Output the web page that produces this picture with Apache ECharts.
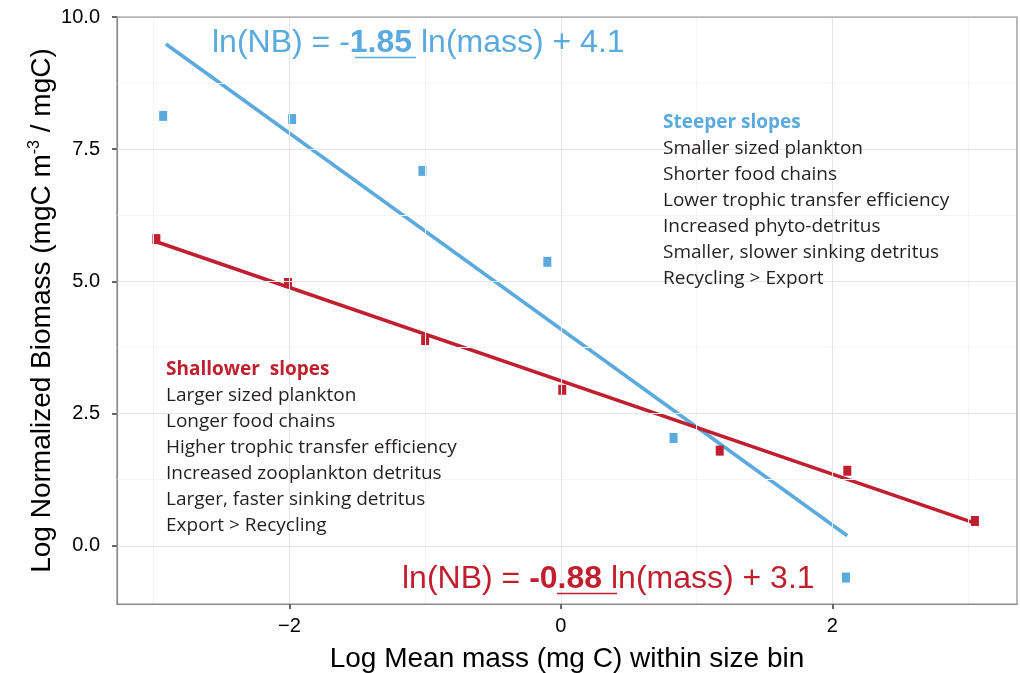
<!DOCTYPE html>
<html>
<head>
<meta charset="utf-8">
<script src="https://cdn.jsdelivr.net/npm/echarts@6/dist/echarts.min.js"></script>
<style>html,body{margin:0;padding:0;background:#fff;}#c{width:1020px;height:673px;}</style>
</head>
<body>
<div id="c"></div>
<script>
// ---- data ----
const massRed = [-2.98, -2.01, -1.00, 0.01, 1.17, 2.11, 3.05];
const nbRed   = [5.80, 4.97, 3.89, 2.95, 1.80, 1.42, 0.47];
const massBlue = [-2.93, -1.98, -1.02, -0.10, 0.83, 2.10];
const nbBlue   = [8.13, 8.07, 7.09, 5.37, 2.04, -0.60];
const blueFitX = [-2.91, 2.11];
const blueFitY = [9.49, 0.19];
const redFitX = [-2.98, 3.05];
const redFitY = [5.75, 0.43];
const xTicks = [-2, 0, 2];
const yTicks = [0, 2.5, 5, 7.5, 10];
const xMinor = [-3, -1, 1, 3];
const yMinor = [1.25, 3.75, 6.25, 8.75];
const steeperLines = ['Smaller sized plankton', 'Shorter food chains', 'Lower trophic transfer efficiency',
  'Increased phyto-detritus', 'Smaller, slower sinking detritus', 'Recycling > Export'];
const shallowerLines = ['Larger sized plankton', 'Longer food chains', 'Higher trophic transfer efficiency',
  'Increased zooplankton detritus', 'Larger, faster sinking detritus', 'Export > Recycling'];

const BLUE = '#5aaade';
const RED = '#bf1f2e';
const SANS = 'Liberation Sans';
const NOTE = 'Open Sans';

const pairs = (xs, ys) => xs.map((x, i) => [x, ys[i]]);

const chart = echarts.init(document.getElementById('c'), null, {renderer: 'canvas'});
const option = {
  animation: false,
  backgroundColor: '#fff',
  grid: {left: 117, right: 3, top: 17, bottom: 69, show: true, borderColor: '#8a8a8a', borderWidth: 1.2,
    backgroundColor: 'transparent', z: 10, outerBoundsMode: 'none', containLabel: false},
  xAxis: {
    type: 'value', min: -3.27, max: 3.36,
    name: 'Log Mean mass (mg C) within size bin', nameLocation: 'middle', nameGap: 41, nameMoveOverlap: false,
    nameTextStyle: {fontFamily: SANS, fontSize: 28, color: '#000'},
    axisLine: {show: true, onZero: false, lineStyle: {color: '#8a8a8a', width: 1.2}},
    axisTick: {show: true, length: 5, customValues: xTicks, lineStyle: {color: '#333', width: 1.5}},
    axisLabel: {customValues: xTicks, margin: 12, fontFamily: SANS, fontSize: 20, color: '#000',
      formatter: v => v < 0 ? '\u2212' + Math.abs(v) : String(v)},
    splitLine: {show: false}
  },
  yAxis: {
    type: 'value', min: -1.1, max: 10.0,
    name: 'Log Normalized Biomass (mgC m{sup|-3} / mgC)', nameLocation: 'middle', nameGap: 60, nameRotate: 90,
    nameMoveOverlap: false,
    nameTextStyle: {fontFamily: SANS, fontSize: 28, color: '#000',
      rich: {sup: {fontFamily: SANS, fontSize: 16, color: '#000', padding: [0, 0, 14, 0]}}},
    axisLine: {show: true, onZero: false, lineStyle: {color: '#8a8a8a', width: 1.2}},
    axisTick: {show: true, length: 5, customValues: yTicks, lineStyle: {color: '#333', width: 1.5}},
    axisLabel: {customValues: yTicks, margin: 17, fontFamily: SANS, fontSize: 20, color: '#000',
      formatter: v => v.toFixed(1)},
    splitLine: {show: false}
  },
  series: [
    {
      type: 'line', data: [], silent: true, z: 0,
      markLine: {silent: true, symbol: 'none', label: {show: false}, animation: false,
        lineStyle: {color: '#f4f4f4', width: 1, type: 'solid'},
        data: xMinor.map(v => ({xAxis: v})).concat(yMinor.map(v => ({yAxis: v})))}
    },
    {
      type: 'line', data: [], silent: true, z: 1,
      markLine: {silent: true, symbol: 'none', label: {show: false}, animation: false,
        lineStyle: {color: '#e6e6e6', width: 1.1, type: 'solid'},
        data: xTicks.map(v => ({xAxis: v})).concat(yTicks.map(v => ({yAxis: v})))}
    },
    {type: 'line', name: 'blue fit', data: pairs(blueFitX, blueFitY), showSymbol: false, symbol: 'none',
      lineStyle: {color: BLUE, width: 3.5}, z: 3},
    {type: 'line', name: 'red fit', data: pairs(redFitX, redFitY), showSymbol: false, symbol: 'none',
      lineStyle: {color: RED, width: 3.5}, z: 3},
    {type: 'scatter', name: 'blue', data: pairs(massBlue, nbBlue), symbol: 'rect', symbolSize: [8, 10],
      itemStyle: {color: BLUE, opacity: 1}, z: 4},
    {type: 'scatter', name: 'red', data: pairs(massRed, nbRed), symbol: 'rect', symbolSize: [8, 10],
      itemStyle: {color: RED, opacity: 1}, z: 4}
  ],
  graphic: [
    {type: 'text', x: 212, y: 43.5, z: 20, style: {
      text: '{n|ln(NB) = -}{b|1.85}{n| ln(mass) + 4.1}', verticalAlign: 'middle',
      rich: {n: {fontFamily: SANS, fontSize: 32, fill: BLUE}, b: {fontFamily: SANS, fontSize: 32, fontWeight: 'bold', fill: BLUE}}}},
    {type: 'line', z: 20, shape: {x1: 355, y1: 57.5, x2: 416, y2: 57.5}, style: {stroke: BLUE, lineWidth: 1.5}},
    {type: 'text', x: 402, y: 579.5, z: 20, style: {
      text: '{n|ln(NB) = }{b|-0.88}{n| ln(mass) + 3.1}', verticalAlign: 'middle',
      rich: {n: {fontFamily: SANS, fontSize: 32, fill: RED}, b: {fontFamily: SANS, fontSize: 32, fontWeight: 'bold', fill: RED}}}},
    {type: 'line', z: 20, shape: {x1: 557, y1: 593.5, x2: 617, y2: 593.5}, style: {stroke: RED, lineWidth: 1.5}},
    {type: 'text', x: 663, y: 110, z: 20, style: {
      text: '{h|Steeper slopes}\n' + steeperLines.map(s => '{t|' + s + '}').join('\n'),
      verticalAlign: 'top',
      rich: {h: {fontFamily: NOTE, fontSize: 19, fontWeight: 'bold', fill: BLUE, lineHeight: 26},
             t: {fontFamily: NOTE, fontSize: 19, fill: '#231f20', lineHeight: 26}}}},
    {type: 'text', x: 166, y: 357, z: 20, style: {
      text: '{h|Shallower  slopes}\n' + shallowerLines.map(s => '{t|' + s + '}').join('\n'),
      verticalAlign: 'top',
      rich: {h: {fontFamily: NOTE, fontSize: 19, fontWeight: 'bold', fill: RED, lineHeight: 26},
             t: {fontFamily: NOTE, fontSize: 19, fill: '#231f20', lineHeight: 26}}}}
  ]
};
chart.setOption(option);
</script>
</body>
</html>
